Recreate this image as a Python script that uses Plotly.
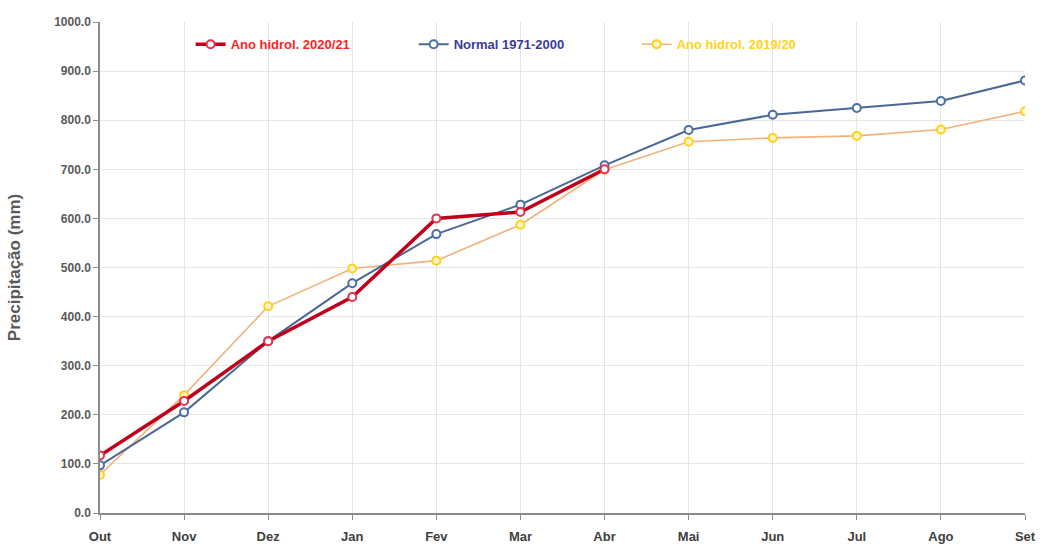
import plotly.graph_objects as go

months = ["Out", "Nov", "Dez", "Jan", "Fev", "Mar", "Abr", "Mai", "Jun", "Jul", "Ago", "Set"]
ano_2020_21 = [117, 228, 350, 440, 600, 613, 700]
normal_1971_2000 = [97, 205, 350, 468, 568, 628, 708, 780, 811, 825, 839, 881]
ano_2019_20 = [78, 240, 421, 498, 514, 587, 699, 756, 764, 768, 781, 818]
y_ticks = [0, 100, 200, 300, 400, 500, 600, 700, 800, 900, 1000]

fig = go.Figure()

fig.add_trace(go.Scatter(
    x=list(range(len(ano_2019_20))), y=ano_2019_20, mode="lines+markers",
    name="<span style='color:#ffd21a'><b>Ano hidrol. 2019/20</b></span>",
    line=dict(color="#f2b27c", width=1.6),
    marker=dict(symbol="circle", size=8, color="#fff6c8", line=dict(color="#ffd21a", width=2)),
))
fig.add_trace(go.Scatter(
    x=list(range(len(normal_1971_2000))), y=normal_1971_2000, mode="lines+markers",
    name="<span style='color:#3b3b9c'><b>Normal 1971-2000</b></span>",
    line=dict(color="#4a6896", width=2),
    marker=dict(symbol="circle", size=8, color="white", line=dict(color="#4a6fa5", width=2)),
))
fig.add_trace(go.Scatter(
    x=list(range(len(ano_2020_21))), y=ano_2020_21, mode="lines+markers",
    name="<span style='color:#ff1f1f'><b>Ano hidrol. 2020/21</b></span>",
    line=dict(color="#c0001a", width=3.5),
    marker=dict(symbol="circle", size=8, color="white", line=dict(color="#e8304c", width=2)),
))

fig.update_layout(
    width=1042, height=546,
    margin=dict(l=100, r=17, t=22, b=33),
    paper_bgcolor="white", plot_bgcolor="white",
    font=dict(family="Liberation Sans, Arial, sans-serif", color="#595959"),
    showlegend=True,
    legend=dict(
        orientation="h", x=0.098, y=0.985, xanchor="left", yanchor="top",
        traceorder="reversed",
        entrywidth=178, entrywidthmode="pixels",
        font=dict(family="Liberation Sans Narrow, Liberation Sans, Arial, sans-serif", size=13),
        bgcolor="rgba(0,0,0,0)", itemwidth=30,
    ),
)

fig.update_xaxes(
    range=[0, 11], tickmode="array", tickvals=list(range(len(months))), ticktext=months,
    showgrid=True, gridcolor="#e6e6e6", gridwidth=1,
    showline=True, linecolor="#8c8c8c", linewidth=1.5,
    ticks="outside", ticklen=5, tickcolor="#8c8c8c",
    ticklabelstandoff=6,
    tickfont=dict(size=13, color="#404040", family="Liberation Sans Narrow, Liberation Sans, Arial, sans-serif", weight="bold"),
    zeroline=False, automargin=False,
)
fig.update_yaxes(
    range=[0, 1000], tickmode="array", tickvals=y_ticks,
    ticktext=[f"{v:.1f}" for v in y_ticks],
    showgrid=True, gridcolor="#e6e6e6", gridwidth=1,
    showline=True, linecolor="#8c8c8c", linewidth=1.5,
    ticks="outside", ticklen=5, tickcolor="#8c8c8c",
    tickfont=dict(size=12, color="#595959", weight="bold"),
    title=dict(text="<b>Precipitação (mm)</b>", font=dict(size=17, color="#595959"), standoff=29),
    zeroline=False, automargin=False,
)

fig.write_html("out.html", config={"displayModeBar": False},
               post_script="document.body.style.margin='0';document.body.style.padding='0';")
